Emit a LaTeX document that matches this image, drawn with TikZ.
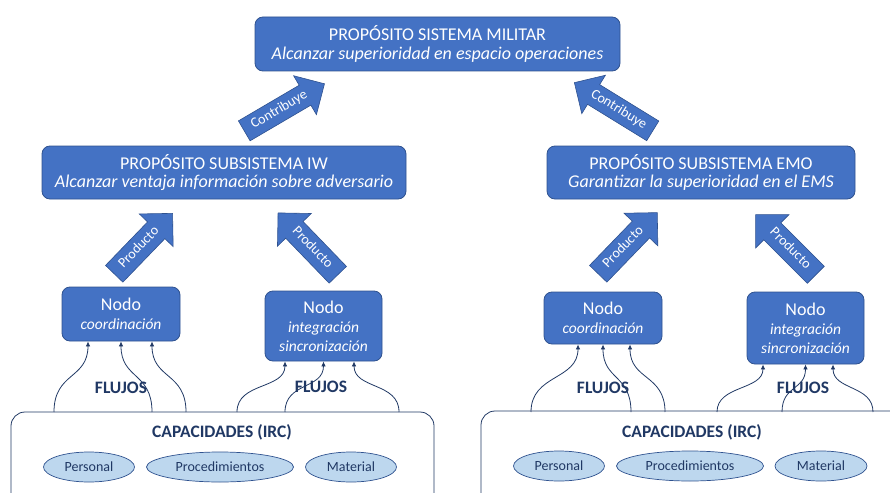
\documentclass[tikz,border=0pt]{standalone}
\usepackage{fontspec}
\setmainfont{Carlito}
\usetikzlibrary{shapes.arrows,shapes.geometric,arrows.meta}
\definecolor{mblue}{HTML}{4472C4}
\definecolor{mborder}{HTML}{2F528F}
\definecolor{navy}{HTML}{203864}
\definecolor{lblue}{HTML}{BDD7EE}
\begin{document}
\begin{tikzpicture}[x=1pt,y=-1pt,
  box/.style={draw=mborder, fill=mblue, rounded corners=8pt, text=white, align=center, inner sep=0pt, line width=0.8pt},
  bigbox/.style={box, font=\fontsize{18}{18.6}\selectfont},
  nodebox/.style={box, font=\fontsize{15.5}{19}\selectfont},
  barrow/.style={single arrow, draw=mborder, fill=mblue, text=white, font=\fontsize{14}{15}\selectfont,
     single arrow head extend=11pt, single arrow tip angle=90, text height=9.5pt, text depth=3pt,
     inner ysep=5pt, inner xsep=1pt, anchor=tail, line width=0.6pt},
  flow/.style={draw=navy, line width=0.8pt, -{Latex[length=5pt,width=4.5pt]}},
  flujos/.style={font=\bfseries\fontsize{17.5}{19}\selectfont, text=navy},
  captitle/.style={font=\bfseries\fontsize{17.5}{19}\selectfont, text=navy},
  capbox/.style={draw=navy, rounded corners=14pt, line width=0.8pt},
  res/.style={ellipse, draw=mborder, fill=lblue, text=navy, inner sep=0pt, minimum height=30pt, line width=0.7pt, font=\fontsize{14}{16}\selectfont}
]
\useasboundingbox (0,0) rectangle (890,492);
\clip (0,0) rectangle (890,492);

% purpose boxes
\node[bigbox, minimum width=365pt, minimum height=54pt] (top) at (437.5,44)
  {PROPÓSITO SISTEMA MILITAR\\\textit{Alcanzar superioridad en espacio operaciones}};
\node[bigbox, minimum width=364pt, minimum height=53pt] (iw) at (224,172.5)
  {PROPÓSITO SUBSISTEMA IW\\\textit{Alcanzar ventaja información sobre adversario}};
\node[bigbox, minimum width=308pt, minimum height=53pt] (emo) at (701,172.5)
  {PROPÓSITO SUBSISTEMA EMO\\\textit{Garantizar la superioridad en el EMS}};

% node boxes
\node[nodebox, minimum width=118pt, minimum height=54pt] (n1) at (121,314)
  {{\fontsize{18}{19}\selectfont Nodo}\\\textit{coordinación}};
\node[nodebox, minimum width=117pt, minimum height=70pt] (n2) at (323.5,326)
  {{\fontsize{18}{19}\selectfont Nodo}\\\textit{integración}\\\textit{sincronización}};
\node[nodebox, minimum width=118pt, minimum height=52pt] (n3) at (603,318)
  {{\fontsize{18}{19}\selectfont Nodo}\\\textit{coordinación}};
\node[nodebox, minimum width=117pt, minimum height=72pt] (n4) at (805.5,328)
  {{\fontsize{18}{19}\selectfont Nodo}\\\textit{integración}\\\textit{sincronización}};

% block arrows
\node[barrow, minimum height=93pt, minimum width=45pt, rotate=30.4] (c1) at (244,131) {Contribuye};
\node[barrow, minimum height=92pt, minimum width=45pt, rotate=-31.6, shape border rotate=180] (c2) at (653,131) {Contribuye};
\node[barrow, minimum height=84pt, minimum width=47pt, rotate=46] (p1) at (114,274) {Producto};
\node[barrow, minimum height=86pt, minimum width=47pt, rotate=-46, shape border rotate=180] (p2) at (338,275) {Producto};
\node[barrow, minimum height=85pt, minimum width=47pt, rotate=46] (p3) at (598,274) {Producto};
\node[barrow, minimum height=85pt, minimum width=47pt, rotate=-45, shape border rotate=180] (p4) at (816,275) {Producto};

% capability boxes
\draw[capbox] (11,412) rectangle (434,530);
\draw[capbox] (481,411) rectangle (910,530);
\node[captitle] (capl) at (222,432) {CAPACIDADES (IRC)};
\node[captitle] (capr) at (692,432) {CAPACIDADES (IRC)};
\node[res, minimum width=91pt] (pl) at (89,467) {Personal};
\node[res, minimum width=147pt] (prl) at (220,467) {Procedimientos};
\node[res, minimum width=91pt] (ml) at (351,467) {Material};
\node[res, minimum width=91pt] (pr) at (559,466) {Personal};
\node[res, minimum width=147pt] (prr) at (690,466) {Procedimientos};
\node[res, minimum width=92pt] (mr) at (821,466) {Material};

% flow start points
\coordinate (a1) at (54,412);  \coordinate (a2) at (152,412); \coordinate (a3) at (186,412);
\coordinate (b1) at (237,412); \coordinate (b2) at (285,412); \coordinate (b3) at (399,412);
\coordinate (c1s) at (531,412); \coordinate (c2s) at (631,412); \coordinate (c3s) at (665,412);
\coordinate (d1) at (717,412); \coordinate (d2) at (782,412); \coordinate (d3) at (873,412);

\draw[flow] (a1) .. controls +(0,-40) and +(0,38) .. ([xshift=-33pt]n1.south);
\draw[flow] (a2) .. controls +(0,-40) and +(0,38) .. (n1.south);
\draw[flow] (a3) .. controls +(0,-40) and +(0,38) .. ([xshift=31pt]n1.south);
\draw[flow] (b1) .. controls +(0,-30) and +(0,28) .. ([xshift=-38.5pt]n2.south);
\draw[flow] (b2) .. controls +(0,-30) and +(0,28) .. (n2.south);
\draw[flow] (b3) .. controls +(0,-30) and +(0,28) .. ([xshift=30.5pt]n2.south);
\draw[flow] (c1s) .. controls +(0,-38) and +(0,36) .. ([xshift=-25pt]n3.south);
\draw[flow] (c2s) .. controls +(0,-38) and +(0,36) .. (n3.south);
\draw[flow] (c3s) .. controls +(0,-38) and +(0,36) .. ([xshift=27pt]n3.south);
\draw[flow] (d1) .. controls +(0,-27) and +(0,26) .. ([xshift=-42.5pt]n4.south);
\draw[flow] (d2) .. controls +(0,-27) and +(0,26) .. (n4.south);
\draw[flow] (d3) .. controls +(0,-27) and +(0,26) .. ([xshift=27.5pt]n4.south);

\node[flujos] (f1) at (121,388) {FLUJOS};
\node[flujos] (f2) at (321,387) {FLUJOS};
\node[flujos] (f3) at (603,388) {FLUJOS};
\node[flujos] (f4) at (803,388) {FLUJOS};
\end{tikzpicture}
\end{document}
